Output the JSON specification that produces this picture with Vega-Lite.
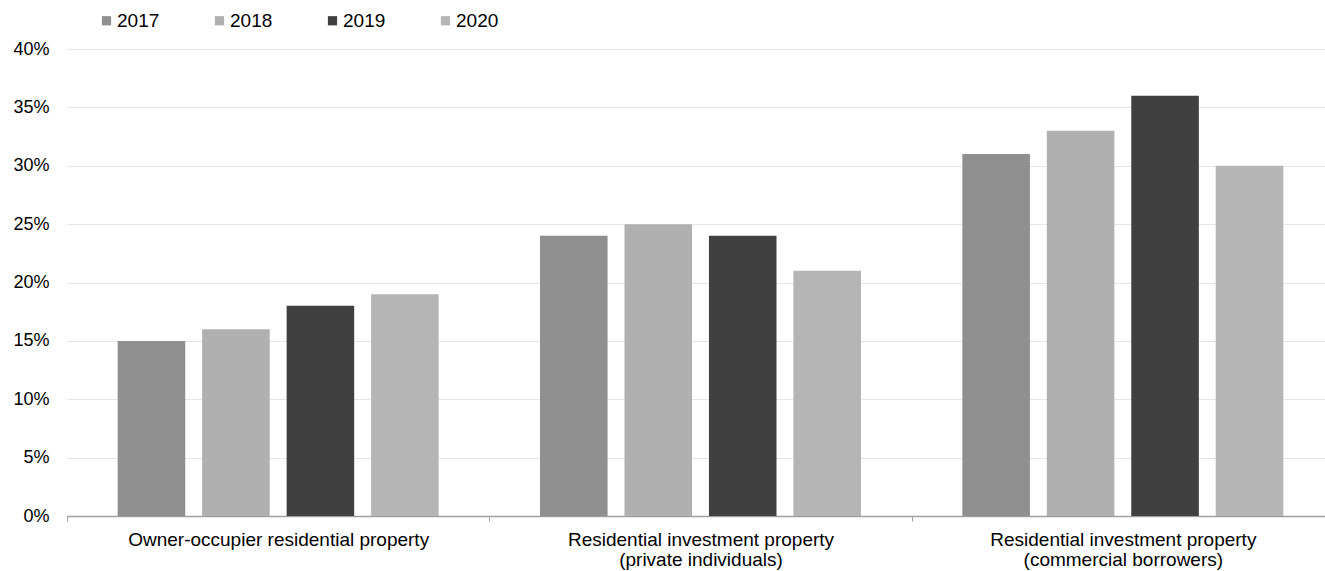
{
  "$schema": "https://vega.github.io/schema/vega-lite/v6.json",
  "width": 1267,
  "height": 467,
  "autosize": {"type": "none"},
  "padding": {"left": 67, "top": 49, "right": -9, "bottom": 55},
  "background": "white",
  "config": {
    "font": "Liberation Sans",
    "view": {"stroke": null}
  },
  "data": {
    "values": [
      {"category": "Owner-occupier residential property", "year": "2017", "value": 15},
      {"category": "Owner-occupier residential property", "year": "2018", "value": 16},
      {"category": "Owner-occupier residential property", "year": "2019", "value": 18},
      {"category": "Owner-occupier residential property", "year": "2020", "value": 19},
      {"category": "Residential investment property|(private individuals)", "year": "2017", "value": 24},
      {"category": "Residential investment property|(private individuals)", "year": "2018", "value": 25},
      {"category": "Residential investment property|(private individuals)", "year": "2019", "value": 24},
      {"category": "Residential investment property|(private individuals)", "year": "2020", "value": 21},
      {"category": "Residential investment property|(commercial borrowers)", "year": "2017", "value": 31},
      {"category": "Residential investment property|(commercial borrowers)", "year": "2018", "value": 33},
      {"category": "Residential investment property|(commercial borrowers)", "year": "2019", "value": 36},
      {"category": "Residential investment property|(commercial borrowers)", "year": "2020", "value": 30}
    ]
  },
  "mark": {"type": "bar"},
  "encoding": {
    "x": {
      "field": "category",
      "type": "nominal",
      "sort": null,
      "title": null,
      "scale": {"paddingInner": 0, "paddingOuter": 0},
      "axis": {
        "labelAngle": 0,
        "labelExpr": "split(datum.label, '|')",
        "labelFontSize": 19,
        "labelColor": "#000000",
        "labelPadding": 9,
        "labelLineHeight": 20,
        "labelBaseline": "top",
        "labelLimit": 0,
        "tickBand": "extent",
        "tickColor": "#a0a0a0",
        "tickSize": 5,
        "domainColor": "#a0a0a0",
        "domainWidth": 1.5,
        "grid": false
      }
    },
    "xOffset": {
      "field": "year",
      "type": "nominal",
      "scale": {"paddingInner": 0.2, "paddingOuter": 0.6}
    },
    "y": {
      "field": "value",
      "type": "quantitative",
      "title": null,
      "scale": {"domain": [0, 40], "nice": false},
      "axis": {
        "values": [0, 5, 10, 15, 20, 25, 30, 35, 40],
        "labelExpr": "datum.value + '%'",
        "labelFontSize": 18,
        "labelColor": "#000000",
        "labelPadding": 18,
        "domain": false,
        "ticks": false,
        "gridColor": "#e6e6e6",
        "gridWidth": 1
      }
    },
    "color": {
      "field": "year",
      "type": "nominal",
      "title": null,
      "scale": {
        "domain": ["2017", "2018", "2019", "2020"],
        "range": ["#8f8f8f", "#b0b0b0", "#404040", "#b5b5b5"]
      },
      "legend": {
        "orient": "none",
        "legendX": 30,
        "legendY": -38,
        "direction": "horizontal",
        "symbolType": "square",
        "symbolSize": 85,
        "symbolStrokeWidth": 0,
        "labelFontSize": 19,
        "labelColor": "#000000",
        "labelOffset": 1,
        "columnPadding": 50
      }
    }
  }
}
